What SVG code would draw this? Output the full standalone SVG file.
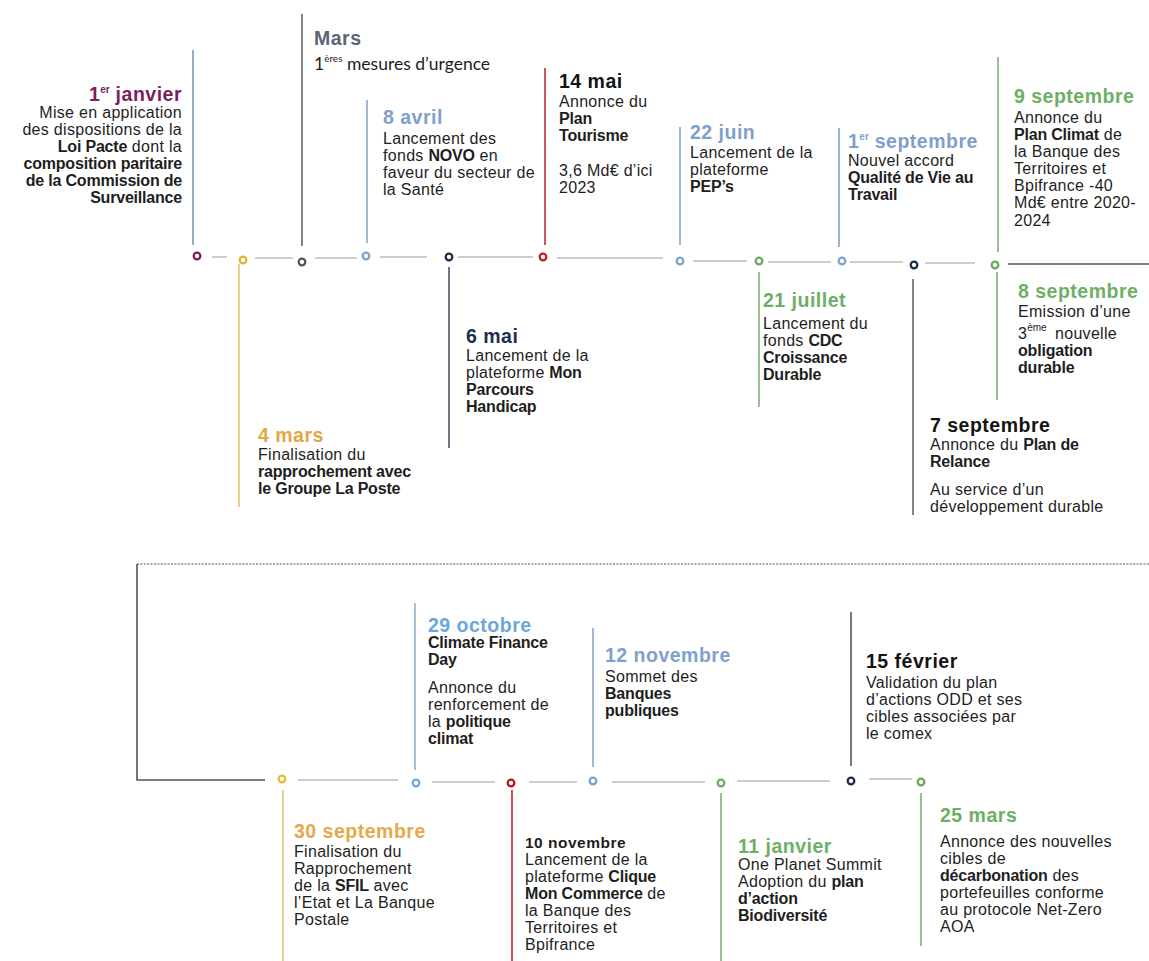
<svg xmlns="http://www.w3.org/2000/svg" width="1149" height="961" viewBox="0 0 1149 961">
<style>
text{font-family:"Liberation Sans",Arial,sans-serif;font-size:16px;letter-spacing:0.3px;fill:#1e1e1e}
.b{font-weight:bold;letter-spacing:-0.2px}
.h{font-weight:bold;font-size:19.5px;letter-spacing:0.5px}
.h2{font-weight:bold;font-size:15.5px;letter-spacing:0.5px}
.sup{font-size:10px;letter-spacing:0}
.cal{font-family:Lato,"Open Sans",sans-serif;font-size:17.5px;letter-spacing:0}
.v{fill:none;stroke-width:1.6}
.dot{fill:#fff;stroke-width:2.3}
.seg{stroke:#9c9c9c;stroke-width:1.2;fill:none}
.dark{stroke:#555;stroke-width:1.6;fill:none}
.end{text-anchor:end}
</style>
<rect width="1149" height="961" fill="#fff"/>

<g id="connectors">
  <path class="seg" d="M212,257H227 M255,258H293 M315,258H357 M380,257H427 M458,257H533 M557,258H663 M693,261H747 M768,262H831 M850,262H903 M925,263H975"/>
  <path class="dark" d="M1008,264H1149"/>
  <path d="M137,564H1149" stroke="#8a8a8a" stroke-width="1.6" stroke-dasharray="2 1.4" fill="none"/>
  <path class="dark" d="M137,564V780H265"/>
  <path class="seg" d="M298,780H398 M432,782H495 M529,782H577 M612,782H705 M737,781H830 M869,779H912"/>
</g>

<g id="n-1janvier">
  <line class="v" x1="193" y1="50" x2="193" y2="245" stroke="#8096b3"/>
  <circle class="dot" cx="197" cy="256" r="3.3" stroke="#7b1e5e"/>
  <text class="h end" x="182" y="101" style="fill:#7b1e5e">1<tspan class="sup" dy="-8" style="fill:#7b1e5e">er</tspan><tspan dy="8" style="fill:#7b1e5e"> janvier</tspan></text>
  <text class="end" x="182" y="118">Mise en application</text>
  <text class="end" x="182" y="135">des dispositions de la</text>
  <text class="end" x="182" y="152"><tspan class="b">Loi Pacte</tspan> dont la</text>
  <text class="end b" x="182" y="169">composition paritaire</text>
  <text class="end b" x="182" y="186">de la Commission de</text>
  <text class="end b" x="182" y="203">Surveillance</text>
</g>

<g id="n-4mars">
  <line class="v" x1="239" y1="264" x2="239" y2="507" stroke="#e9c56a"/>
  <circle class="dot" cx="243" cy="260" r="3.3" stroke="#e4b238"/>
  <text class="h" x="258" y="442" style="fill:#e3a645">4 mars</text>
  <text x="258" y="460">Finalisation du</text>
  <text class="b" x="258" y="477">rapprochement avec</text>
  <text class="b" x="258" y="494">le Groupe La Poste</text>
</g>

<g id="n-mars">
  <line class="v" x1="302" y1="14" x2="302" y2="246" stroke="#5f6670"/>
  <circle class="dot" cx="302" cy="262" r="3.3" stroke="#50565f"/>
  <text class="h" x="314" y="45" style="fill:#5a6477">Mars</text>
  <text class="cal" x="314" y="70">1<tspan class="sup" dy="-8">ères</tspan><tspan dy="8"> mesures d’urgence</tspan></text>
</g>

<g id="n-8avril">
  <line class="v" x1="367" y1="100" x2="367" y2="243" stroke="#90a8c8"/>
  <circle class="dot" cx="366" cy="256" r="3.3" stroke="#7fa3cf"/>
  <text class="h" x="383" y="124" style="fill:#7f9fcc">8 avril</text>
  <text x="383" y="144">Lancement des</text>
  <text x="383" y="161">fonds <tspan class="b">NOVO</tspan> en</text>
  <text x="383" y="178">faveur du secteur de</text>
  <text x="383" y="195">la Santé</text>
</g>

<g id="n-6mai">
  <line class="v" x1="449" y1="267" x2="449" y2="448" stroke="#4b5468"/>
  <circle class="dot" cx="449" cy="257" r="3.3" stroke="#1f2a4f"/>
  <text class="h" x="466" y="343" style="fill:#1f2c52">6 mai</text>
  <text x="466" y="361">Lancement de la</text>
  <text x="466" y="378">plateforme <tspan class="b">Mon</tspan></text>
  <text class="b" x="466" y="395">Parcours</text>
  <text class="b" x="466" y="412">Handicap</text>
</g>

<g id="n-14mai">
  <line class="v" x1="545" y1="68" x2="545" y2="245" stroke="#b83038"/>
  <circle class="dot" cx="543" cy="257" r="3.3" stroke="#c01e28"/>
  <text class="h" x="559" y="88" style="fill:#141414">14 mai</text>
  <text x="559" y="107">Annonce du</text>
  <text class="b" x="559" y="124">Plan</text>
  <text class="b" x="559" y="141">Tourisme</text>
  <text x="559" y="176">3,6 Md€ d’ici</text>
  <text x="559" y="193">2023</text>
</g>

<g id="n-22juin">
  <line class="v" x1="680" y1="127" x2="680" y2="245" stroke="#90a8c8"/>
  <circle class="dot" cx="680" cy="261" r="3.3" stroke="#7fa3cf"/>
  <text class="h" x="690" y="139" style="fill:#7f9fcc">22 juin</text>
  <text x="690" y="158">Lancement de la</text>
  <text x="690" y="175">plateforme</text>
  <text class="b" x="690" y="192">PEP’s</text>
</g>

<g id="n-21juillet">
  <line class="v" x1="759" y1="272" x2="759" y2="407" stroke="#7ab372"/>
  <circle class="dot" cx="759" cy="261" r="3.3" stroke="#6aab5f"/>
  <text class="h" x="763" y="307" style="fill:#6daf66">21 juillet</text>
  <text x="763" y="329">Lancement du</text>
  <text x="763" y="346">fonds <tspan class="b">CDC</tspan></text>
  <text class="b" x="763" y="363">Croissance</text>
  <text class="b" x="763" y="380">Durable</text>
</g>

<g id="n-1septembre">
  <line class="v" x1="839" y1="128" x2="839" y2="247" stroke="#7f9fcc"/>
  <circle class="dot" cx="842" cy="261" r="3.3" stroke="#7fa3cf"/>
  <text class="h" x="848" y="148" style="fill:#7f9fcc">1<tspan class="sup" dy="-8" style="fill:#7f9fcc">er</tspan><tspan dy="8" style="fill:#7f9fcc"> septembre</tspan></text>
  <text x="848" y="166">Nouvel accord</text>
  <text class="b" x="848" y="183">Qualité de Vie au</text>
  <text class="b" x="848" y="200">Travail</text>
</g>

<g id="n-7septembre">
  <line class="v" x1="913" y1="279" x2="913" y2="515" stroke="#666"/>
  <circle class="dot" cx="914" cy="265" r="3.3" stroke="#1f2a4f"/>
  <text class="h" x="930" y="432" style="fill:#141414">7 septembre</text>
  <text x="930" y="450">Annonce du <tspan class="b">Plan de</tspan></text>
  <text class="b" x="930" y="467">Relance</text>
  <text x="930" y="495">Au service d’un</text>
  <text x="930" y="512">développement durable</text>
</g>

<g id="n-9septembre">
  <line class="v" x1="998" y1="57" x2="998" y2="252" stroke="#7ab372"/>
  <circle class="dot" cx="995" cy="265" r="3.3" stroke="#6aab5f"/>
  <text class="h" x="1014" y="103" style="fill:#6daf66">9 septembre</text>
  <text x="1014" y="123">Annonce du</text>
  <text x="1014" y="140"><tspan class="b">Plan Climat</tspan> de</text>
  <text x="1014" y="157">la Banque des</text>
  <text x="1014" y="174">Territoires et</text>
  <text x="1014" y="191">Bpifrance -40</text>
  <text x="1014" y="208">Md€ entre 2020-</text>
  <text x="1014" y="226">2024</text>
</g>

<g id="n-8septembre">
  <line class="v" x1="997" y1="272" x2="997" y2="400" stroke="#7ab372"/>
  <text class="h" x="1018" y="298" style="fill:#6daf66">8 septembre</text>
  <text x="1018" y="317">Emission d’une</text>
  <text x="1018" y="339">3<tspan class="sup" dy="-8">ème</tspan><tspan x="1055" dy="8">nouvelle</tspan></text>
  <text class="b" x="1018" y="356">obligation</text>
  <text class="b" x="1018" y="373">durable</text>
</g>

<g id="n-30septembre">
  <line class="v" x1="283" y1="790" x2="283" y2="961" stroke="#e3c47e"/>
  <circle class="dot" cx="282" cy="779" r="3.3" stroke="#e2bd3a"/>
  <text class="h" x="294" y="838" style="fill:#e6a84c">30 septembre</text>
  <text x="294" y="857">Finalisation du</text>
  <text x="294" y="874">Rapprochement</text>
  <text x="294" y="891">de la <tspan class="b">SFIL</tspan> avec</text>
  <text x="294" y="908">l’Etat et La Banque</text>
  <text x="294" y="925">Postale</text>
</g>

<g id="n-29octobre">
  <line class="v" x1="415" y1="603" x2="415" y2="770" stroke="#8fb0d2"/>
  <circle class="dot" cx="416" cy="783" r="3.3" stroke="#6fa8dc"/>
  <text class="h" x="428" y="632" style="fill:#6aa8dc">29 octobre</text>
  <text class="b" x="428" y="648">Climate Finance</text>
  <text class="b" x="428" y="665">Day</text>
  <text x="428" y="693">Annonce du</text>
  <text x="428" y="710">renforcement de</text>
  <text x="428" y="727">la <tspan class="b">politique</tspan></text>
  <text class="b" x="428" y="744">climat</text>
</g>

<g id="n-10novembre">
  <line class="v" x1="512" y1="790" x2="512" y2="961" stroke="#c0202a"/>
  <circle class="dot" cx="511" cy="783" r="3.3" stroke="#b8141e"/>
  <text class="h2" x="525" y="848">10 novembre</text>
  <text x="525" y="865">Lancement de la</text>
  <text x="525" y="882">plateforme <tspan class="b">Clique</tspan></text>
  <text x="525" y="899"><tspan class="b">Mon Commerce</tspan> de</text>
  <text x="525" y="916">la Banque des</text>
  <text x="525" y="933">Territoires et</text>
  <text x="525" y="950">Bpifrance</text>
</g>

<g id="n-12novembre">
  <line class="v" x1="593" y1="628" x2="593" y2="767" stroke="#90a8c8"/>
  <circle class="dot" cx="593" cy="781" r="3.3" stroke="#7f9fcc"/>
  <text class="h" x="605" y="662" style="fill:#7f9fcc">12 novembre</text>
  <text x="605" y="682">Sommet des</text>
  <text class="b" x="605" y="699">Banques</text>
  <text class="b" x="605" y="716">publiques</text>
</g>

<g id="n-11janvier">
  <line class="v" x1="721" y1="793" x2="721" y2="961" stroke="#7ab372"/>
  <circle class="dot" cx="721" cy="783" r="3.3" stroke="#6aab5f"/>
  <text class="h" x="738" y="853" style="fill:#6daf66">11 janvier</text>
  <text x="738" y="870">One Planet Summit</text>
  <text x="738" y="887">Adoption du <tspan class="b">plan</tspan></text>
  <text class="b" x="738" y="904">d’action</text>
  <text class="b" x="738" y="921">Biodiversité</text>
</g>

<g id="n-15fevrier">
  <line class="v" x1="851" y1="612" x2="851" y2="766" stroke="#555"/>
  <circle class="dot" cx="851" cy="781" r="3.3" stroke="#1f2a4f"/>
  <text class="h" x="866" y="668" style="fill:#141414">15 février</text>
  <text x="866" y="688">Validation du plan</text>
  <text x="866" y="705">d’actions ODD et ses</text>
  <text x="866" y="722">cibles associées par</text>
  <text x="866" y="739">le comex</text>
</g>

<g id="n-25mars">
  <line class="v" x1="921" y1="793" x2="921" y2="946" stroke="#7ab372"/>
  <circle class="dot" cx="921" cy="782" r="3.3" stroke="#6aab5f"/>
  <text class="h" x="940" y="822" style="fill:#6daf66">25 mars</text>
  <text x="940" y="847">Annonce des nouvelles</text>
  <text x="940" y="864">cibles de</text>
  <text x="940" y="881"><tspan class="b">décarbonation</tspan> des</text>
  <text x="940" y="898">portefeuilles conforme</text>
  <text x="940" y="915">au protocole Net-Zero</text>
  <text x="940" y="932">AOA</text>
</g>
</svg>
